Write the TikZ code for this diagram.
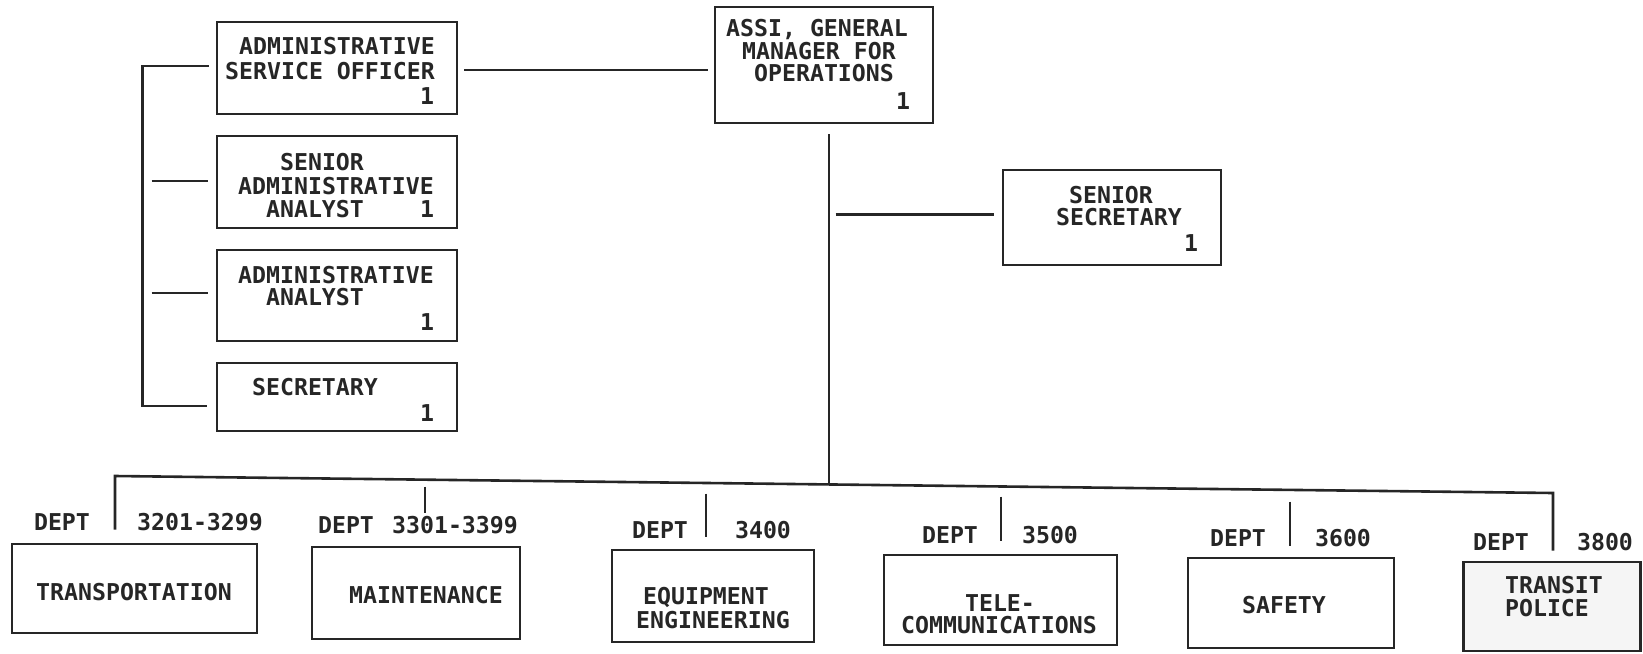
\documentclass[tikz,border=0pt]{standalone}
\usepackage{fontspec}
\usetikzlibrary{calc}
\newfontfamily\orgfont{DejaVu Sans Mono}
\tikzset{
  orgbox/.style={draw=black!85, line width=1.3pt, inner sep=0pt},
  conn/.style={draw=black!85, line width=1.3pt},
  lbl/.style={inner sep=0pt, font=\orgfont\bfseries\fontsize{11.6}{13}\selectfont, text=black!85, text height=8.4pt, text depth=0pt}
}
\begin{document}
\begin{tikzpicture}[x=0.5pt,y=-0.5pt]
\useasboundingbox (0,0) rectangle (1643,653);
% boxes
\node[orgbox, minimum width=120pt, minimum height=46pt] (aso) at (337,68) {};
\node[orgbox, minimum width=120pt, minimum height=46pt] (saa) at (337,182) {};
\node[orgbox, minimum width=120pt, minimum height=45.5pt] (aa) at (337,295.5) {};
\node[orgbox, minimum width=120pt, minimum height=34pt] (sec) at (337,397) {};
\node[orgbox, minimum width=109pt, minimum height=58pt] (agm) at (824,65) {};
\node[orgbox, minimum width=109pt, minimum height=47.5pt] (ss) at (1112,217.5) {};
\node[orgbox, minimum width=122.5pt, minimum height=44.5pt] (trans) at (134.5,588.5) {};
\node[orgbox, minimum width=104pt, minimum height=46pt] (maint) at (416,593) {};
\node[orgbox, minimum width=101pt, minimum height=46pt] (ee) at (713,596) {};
\node[orgbox, minimum width=116.5pt, minimum height=45pt] (tele) at (1000.5,600) {};
\node[orgbox, minimum width=103pt, minimum height=45pt] (safety) at (1291,603) {};
\node[orgbox, fill=black!4, minimum width=88.5pt, minimum height=44.5pt] (transit) at (1552,606.5) {};
% texts in boxes
\node[lbl] (aso1) at (337,46) {ADMINISTRATIVE};
\node[lbl] (aso2) at (330,71) {SERVICE OFFICER};
\node[lbl] (aso3) at (427,96) {1};
\node[lbl] (saa1) at (322,162) {SENIOR};
\node[lbl] (saa2) at (336,186) {ADMINISTRATIVE};
\node[lbl] (saa3) at (315,209) {ANALYST};
\node[lbl] (saa4) at (427,209) {1};
\node[lbl] (aa1) at (336,275) {ADMINISTRATIVE};
\node[lbl] (aa2) at (315,297) {ANALYST};
\node[lbl] (aa3) at (427,322) {1};
\node[lbl] (sec1) at (315,387) {SECRETARY};
\node[lbl] (sec2) at (427,413) {1};
\node[lbl] (agm1) at (817,28) {ASSI, GENERAL};
\node[lbl] (agm2) at (819,51) {MANAGER FOR};
\node[lbl] (agm3) at (824,73) {OPERATIONS};
\node[lbl] (agm4) at (903,101) {1};
\node[lbl] (ss1) at (1111,195) {SENIOR};
\node[lbl] (ss2) at (1119,217) {SECRETARY};
\node[lbl] (ss3) at (1191,243) {1};
\node[lbl] (trans1) at (134,592) {TRANSPORTATION};
\node[lbl] (maint1) at (426,595) {MAINTENANCE};
\node[lbl] (ee1) at (706,596) {EQUIPMENT};
\node[lbl] (ee2) at (713,620) {ENGINEERING};
\node[lbl] (tele1) at (1000,603) {TELE-};
\node[lbl] (tele2) at (999,625) {COMMUNICATIONS};
\node[lbl] (safety1) at (1284,605) {SAFETY};
\node[lbl] (transit1) at (1554,585) {TRANSIT};
\node[lbl] (transit2) at (1547,608) {POLICE};
% dept labels
\node[lbl] (d1a) at (62,522) {DEPT};
\node[lbl] (d1b) at (200,522) {3201-3299};
\node[lbl] (d2a) at (346,525) {DEPT};
\node[lbl] (d2b) at (455,525) {3301-3399};
\node[lbl] (d3a) at (660,530) {DEPT};
\node[lbl] (d3b) at (763,530) {3400};
\node[lbl] (d4a) at (950,535) {DEPT};
\node[lbl] (d4b) at (1050,535) {3500};
\node[lbl] (d5a) at (1238,538) {DEPT};
\node[lbl] (d5b) at (1343,538) {3600};
\node[lbl] (d6a) at (1501,542) {DEPT};
\node[lbl] (d6b) at (1605,542) {3800};
% connectors: staff bracket
\draw[conn] ($(aso.west)+(-7,-2)$) -| ($(sec.west)+(-73,9)$) -- ($(sec.west)+(-9,9)$);
\draw[conn] ($(saa.west)+(-64,-1)$) -- ($(saa.west)+(-8,-1)$);
\draw[conn] ($(aa.west)+(-64,-2.5)$) -- ($(aa.west)+(-8,-2.5)$);
% ASO to AGM
\draw[conn] ($(aso.east)+(6,2)$) -- ($(agm.west)+(-6,5)$);
% AGM down to bus, senior secretary
\coordinate (busL) at (115,476);
\coordinate (busR) at (1553,493);
\coordinate (busM) at (829,484);
\draw[conn] ($(agm.south)+(5,10)$) -- (busM);
\draw[conn] ($(ss.west)+(-166,-3)$) -- ($(ss.west)+(-8,-3)$);
% department bus
\draw[conn] ($(trans.north)+(-19.5,-13)$) -- (busL) -- (busR) -- ($(transit.north)+(1,-10)$);
\draw[conn] ($(maint.north)+(9,-59)$) -- ($(maint.north)+(9,-33)$);
\draw[conn] ($(ee.north)+(-7,-55)$) -- ($(ee.north)+(-7,-12)$);
\draw[conn] ($(tele.north)+(0.5,-57)$) -- ($(tele.north)+(0.5,-13)$);
\draw[conn] ($(safety.north)+(-1,-55)$) -- ($(safety.north)+(-1,-11)$);
\end{tikzpicture}
\end{document}
